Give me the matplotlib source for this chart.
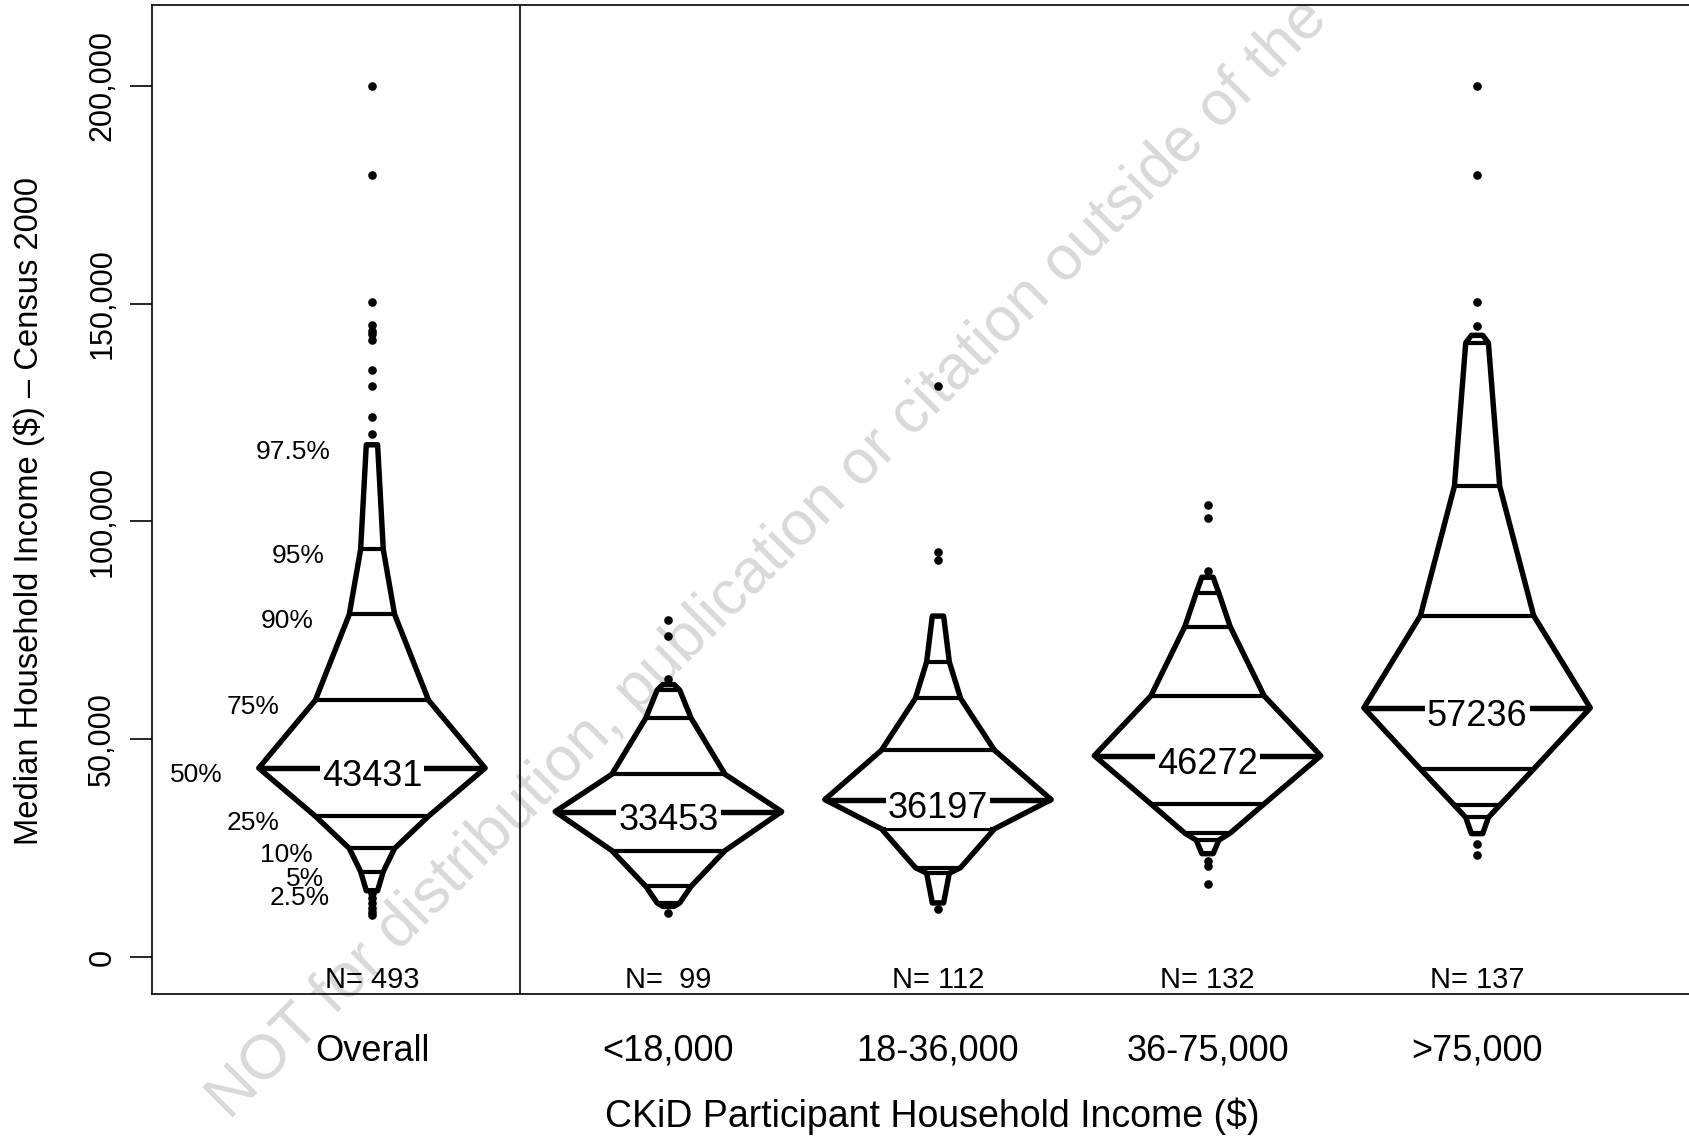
import matplotlib
matplotlib.use("Agg")
import matplotlib.pyplot as plt
import matplotlib.transforms as mtransforms
from matplotlib.patches import Polygon
from matplotlib.ticker import FuncFormatter

plt.rcParams["font.family"] = ["Liberation Sans", "DejaVu Sans"]

# ---- data -------------------------------------------------------------
groups = ["Overall", "<18,000", "18-36,000", "36-75,000", ">75,000"]
n_obs = [493, 99, 112, 132, 137]
positions = [0.0, 1.1, 2.1, 3.1, 4.1]

pct_levels = ["2.5%", "5%", "10%", "25%", "50%", "75%", "90%", "95%", "97.5%"]
# relative half-width of the shape at each percentile
pct_width = [0.05, 0.1, 0.2, 0.5, 1.0, 0.5, 0.2, 0.1, 0.05]

q_overall = [15300, 19700, 25000, 32400, 43431, 59000, 78700, 93600, 117600]
q_lt18 = [11700, 12500, 16300, 24500, 33453, 42000, 54900, 61300, 62600]
q_18_36 = [12500, 19300, 20600, 29500, 36197, 47500, 59400, 67800, 78300]
q_36_75 = [23800, 26900, 28500, 35200, 46272, 60000, 75900, 83600, 87200]
q_gt75 = [28400, 32100, 34900, 43200, 57236, 78400, 108100, 141000, 142700]
quantiles = [q_overall, q_lt18, q_18_36, q_36_75, q_gt75]

out_overall = [200000, 179600, 150300, 145100, 143600, 142900, 141600,
               134700, 131100, 124000, 120000,
               14800, 13600, 12400, 11300, 10400, 9700]
out_lt18 = [77500, 73800, 63900, 10200]
out_18_36 = [131000, 93000, 91100, 11000]
out_36_75 = [103800, 100900, 88700, 22000, 21000, 16800]
out_gt75 = [200000, 179600, 150300, 144900, 25900, 23400]
outliers = [out_overall, out_lt18, out_18_36, out_36_75, out_gt75]

yticks = [0, 50000, 100000, 150000, 200000]

# ---- figure -----------------------------------------------------------
W, H = 1690, 1139
fig = plt.figure(figsize=(W / 100, H / 100), dpi=100)
ax = fig.add_axes([152 / W, 1 - 994 / H, (1697 - 152) / W, (994 - 5.4) / H])
ax.set_facecolor("none")
ax.set_xlim(-0.816, 4.916)
ax.set_ylim(-8400, 218400)

for sp in ax.spines.values():
    sp.set_linewidth(1.2)

half_w = 0.42
lw_out = 3.9
lw_in = 3.0

for x, q, extra in zip(positions, quantiles, outliers):
    left = [(x - half_w * f, v) for f, v in zip(pct_width, q)]
    right = [(x + half_w * f, v) for f, v in zip(pct_width, q)][::-1]
    ax.add_patch(Polygon(left + right, closed=True, fill=False,
                         edgecolor="black", linewidth=lw_out,
                         joinstyle="round", zorder=3))
    for f, v, lab in zip(pct_width, q, pct_levels):
        ax.plot([x - half_w * f, x + half_w * f], [v, v], color="black",
                linewidth=lw_out if lab == "50%" else lw_in,
                solid_capstyle="butt", zorder=3)
    ax.plot([x] * len(extra), extra, "o", color="black", markersize=6.2,
            markeredgewidth=0, zorder=5)
    med = q[4]
    ax.text(x, med, f"{med}", fontsize=26, ha="center", va="baseline",
            transform=mtransforms.offset_copy(ax.transData, fig, y=-18,
                                              units="dots"),
            bbox=dict(facecolor="white", edgecolor="none", pad=1.5),
            zorder=4)

# percentile labels beside the overall shape
lab_tr = mtransforms.offset_copy(ax.transData, fig, y=-14, units="dots")
for f, v, lab in zip(pct_width, q_overall, pct_levels):
    ax.text(positions[0] - half_w * f - 0.134, v, lab, fontsize=19,
            ha="right", va="baseline", transform=lab_tr, zorder=4)

# divider between overall and the income groups
ax.axvline((positions[0] + positions[1]) / 2, color="black", linewidth=1.2,
           zorder=2)

# sample sizes along the bottom
n_tr = mtransforms.blended_transform_factory(ax.transData, ax.transAxes)
for x, n in zip(positions, n_obs):
    ax.text(x, 0.0058, f"N= {n:>3d}", fontsize=21,
            ha="center", va="baseline", transform=n_tr, zorder=4)

# axes ticks and labels
ax.set_xticks(positions, labels=groups)
ax.tick_params(axis="x", length=0, pad=48, labelsize=26)
for t in ax.xaxis.get_major_ticks():
    t.label1.set_verticalalignment("baseline")

ax.set_yticks(yticks)
ax.yaxis.set_major_formatter(FuncFormatter(lambda v, _: f"{v:,.0f}"))
ax.tick_params(axis="y", length=16, width=1.2, pad=9, labelsize=22,
               labelrotation=90)
for t in ax.yaxis.get_major_ticks():
    t.label1.set_verticalalignment("center")

fig.text(29.5 / W, 1 - 511 / H, "Median Household Income ($) \u2013 Census 2000",
         rotation=90, ha="center", va="center", fontsize=23.6)
fig.text(932 / W, 1 - 1116 / H, "CKiD Participant Household Income ($)",
         ha="center", va="center", fontsize=27)

# watermark, anchored at the start of its baseline
ax.text(230 / W, 1 - 1121 / H,
        "NOT for distribution, publication or citation outside of the",
        transform=fig.transFigure, rotation=45, rotation_mode="anchor",
        ha="left", va="baseline", fontsize=45, color="#d9d9d9",
        zorder=0.5, clip_on=False)

fig.savefig("out.png", dpi=100)
